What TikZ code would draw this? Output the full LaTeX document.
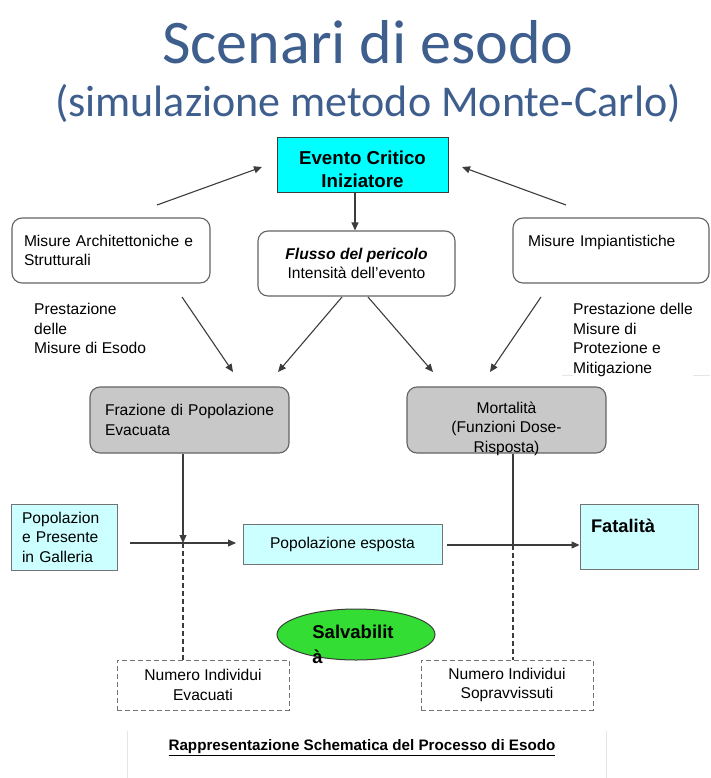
\documentclass[tikz,border=0pt]{standalone}
\usepackage{fontspec}
\setmainfont{Liberation Sans}
\newfontfamily\titlefont{Carlito}
\usetikzlibrary{arrows.meta,shapes.geometric}
\definecolor{titleblue}{RGB}{62,94,142}
\definecolor{brightcyan}{RGB}{0,255,255}
\definecolor{lcyan}{RGB}{204,255,255}
\definecolor{boxgray}{RGB}{200,200,200}
\definecolor{salvgreen}{RGB}{51,221,51}
\definecolor{linec}{RGB}{60,60,60}
\tikzset{
  txt/.style={font=\fontsize{15.6}{19.5}\selectfont},
  rbox/.style={draw=linec!80, line width=1.1pt, rounded corners=10pt, txt, fill=white},
  gbox/.style={rbox, fill=boxgray},
  cbox/.style={draw=gray!90!black, line width=0.9pt, fill=lcyan, txt},
  dbox/.style={draw=gray!90!black, line width=1pt, dash pattern=on 5pt off 3pt, txt, align=center, minimum width=172, minimum height=50},
  arr/.style={draw=linec, line width=1.1pt, -{Triangle[length=8pt,width=7pt]}},
  ln/.style={draw=linec, line width=1.1pt},
  dln/.style={draw=linec, line width=1.1pt, dash pattern=on 5pt off 3pt},
}
\begin{document}
\begin{tikzpicture}[x=1pt,y=-1pt]
\useasboundingbox (0,0) rectangle (710,778);
% titles
\node[font=\titlefont\fontsize{62}{70}\selectfont, text=titleblue] (title) at (368,42) {Scenari di esodo};
\node[font=\titlefont\fontsize{44}{50}\selectfont, text=titleblue] (subtitle) at (368,103) {(simulazione metodo Monte-Carlo)};
% faint frames
\draw[gray!20, line width=0.8pt] (562,375) -- (710,375);
\draw[gray!20, line width=0.8pt] (127,731) -- (127,778);
\draw[gray!20, line width=0.8pt] (606,731) -- (606,778);
% nodes
\node[draw=linec, line width=1pt, fill=brightcyan, minimum width=171, minimum height=54,
      label={[align=center, font=\bfseries\fontsize{18.7}{23}\selectfont, yshift=-4.5pt]center:Evento Critico\\Iniziatore}] (evento) at (362.5,165) {};
\node[rbox, minimum width=198, minimum height=65, text width=180, inner xsep=9, align=left] (arch) at (111,250.5)
      {\hspace*{3pt}\mbox{Misure Architettoniche e}\\\hspace*{3pt}Strutturali};
\node[rbox, minimum width=197, minimum height=65, align=center] (flusso) at (356.5,263.5)
      {\textbf{\textit{Flusso del pericolo}}\\Intensità dell’evento};
\node[rbox, minimum width=196, minimum height=65, text width=166, inner xsep=15, align=left] (imp) at (611,250.5)
      {\mbox{Misure Impiantistiche}\\\mbox{}};
\node[txt, anchor=north west, align=left, inner sep=0] (prest1) at (34,303) {Prestazione\\delle\\Misure di Esodo};
\node[txt, anchor=north west, align=left, inner sep=0, fill=white] (prest2) at (573,303) {Prestazione delle\\Misure di\\Protezione e\\Mitigazione};
\node[gbox, minimum width=199, minimum height=66, text width=181, inner xsep=9, align=left] (fraz) at (189.5,420)
      {\hspace*{6pt}\mbox{Frazione di Popolazione}\\\hspace*{6pt}Evacuata};
\node[gbox, minimum width=199, minimum height=66,
      label={[txt, align=center, yshift=-8.5pt]center:Mortalità\\(Funzioni Dose-\\Risposta)}] (mort) at (506.5,420) {};
\node[cbox, minimum width=106, minimum height=66, text width=84, inner xsep=11, align=left] (pres) at (64,537)
      {Popolazion\\e Presente\\in Galleria};
\node[cbox, minimum width=199, minimum height=40] (esp) at (342.5,544) {Popolazione esposta};
\node[cbox, minimum width=118, minimum height=65, text width=96, inner xsep=11, align=left,
      font=\bfseries\fontsize{18.3}{22}\selectfont] (fatal) at (639,536.5) {Fatalità\\\mbox{}};
\node[ellipse, draw=linec, line width=1pt, fill=salvgreen, minimum width=158, minimum height=51,
      label={[align=left, font=\bfseries\fontsize{18.5}{25}\selectfont, xshift=-3pt, yshift=-10pt]center:Salvabilit\\à}] (salv) at (356,634.5) {};
\node[dbox] (evac) at (203,685) {Numero Individui\\Evacuati};
\node[dbox] (sopr) at (507,685) {Numero Individui\\Sopravvissuti};
\node[font=\bfseries\fontsize{15.2}{18}\selectfont] (caption) at (362,748) {\underline{Rappresentazione Schematica del Processo di Esodo}};
% free coordinates
\coordinate (a1s) at (157,205);
\coordinate (a1e) at (262,167);
\coordinate (a2s) at (566,205);
\coordinate (a2e) at (462,167);
\coordinate (vx) at (355,0);
\coordinate (d1s) at (182,297);
\coordinate (d1e) at (233,372);
\coordinate (d2s) at (342,297);
\coordinate (d2e) at (278,372);
\coordinate (d3s) at (368,297);
\coordinate (d3e) at (433,372);
\coordinate (d4s) at (541,297);
\coordinate (d4e) at (490,372);
\coordinate (jl) at (183,543);
\coordinate (jr) at (513,545);
\coordinate (hs) at (130,543);
\coordinate (he) at (236,543);
\coordinate (fs) at (447,545);
% connectors
\draw[arr] (a1s) -- (a1e);
\draw[arr] (a2s) -- (a2e);
\draw[arr] (evento.south -| vx) -- (flusso.north -| vx);
\draw[arr] (d1s) -- (d1e);
\draw[arr] (d2s) -- (d2e);
\draw[arr] (d3s) -- (d3e);
\draw[arr] (d4s) -- (d4e);
\draw[arr] (fraz.south -| jl) -- (jl);
\draw[dln] (jl) -- (evac.north -| jl);
\draw[arr] (hs) -- (he);
\draw[ln] (mort.south -| jr) -- (jr);
\draw[dln] (jr) -- (sopr.north -| jr);
\draw[arr] (fs) -- (fatal.west |- fs);
\end{tikzpicture}
\end{document}
